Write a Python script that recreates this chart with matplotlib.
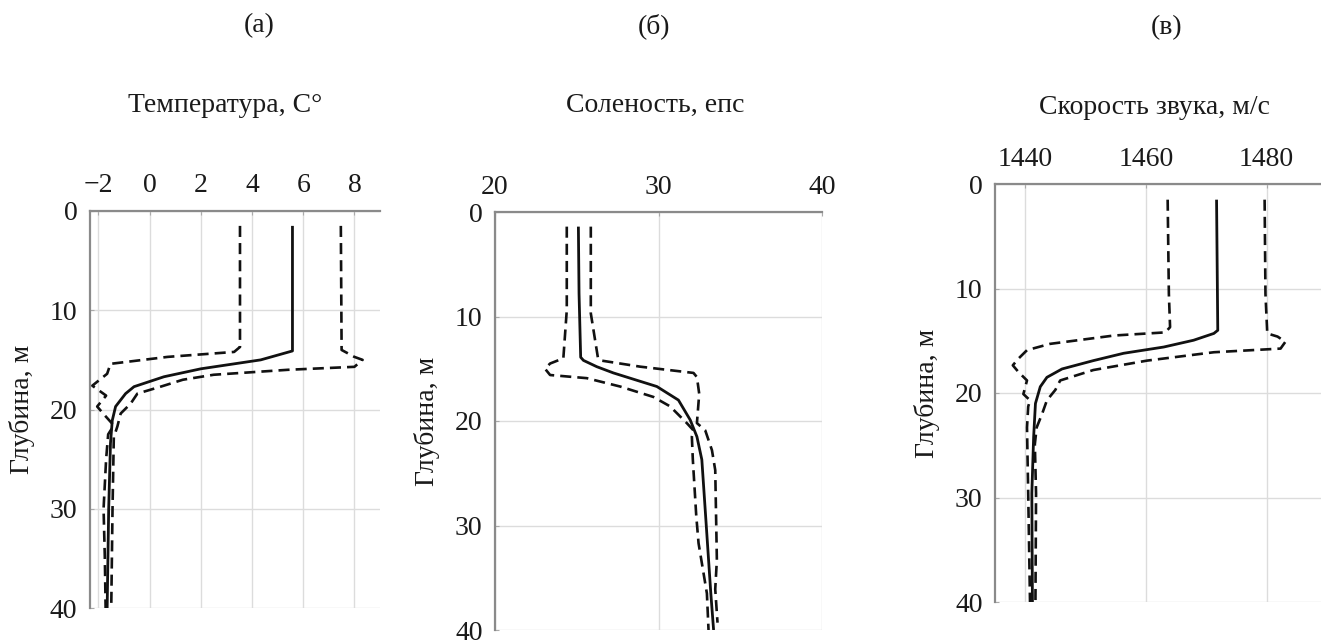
import matplotlib
matplotlib.use("Agg")
import matplotlib.pyplot as plt

plt.rcParams["font.family"] = ["Liberation Serif", "DejaVu Serif"]
plt.rcParams["font.size"] = 20

# temperature profiles (depth, m / value, C)
t_mean_depth = [1.5, 14.1, 15.0, 15.9, 16.7, 17.7, 18.4, 19.7, 21.1, 23.4, 30, 40]
t_mean = [5.58, 5.58, 4.34, 2.0, 0.56, -0.61, -0.94, -1.33, -1.46, -1.53, -1.6, -1.66]
t_min_depth = [1.5, 13.7, 14.2, 14.7, 15.4, 16.4, 17.6, 18.6, 19.7, 20.6, 21.6, 22.5, 25, 30, 35, 40]
t_min = [3.53, 3.53, 3.3, 0.7, -1.53, -1.66, -2.24, -1.7, -2.05, -1.75, -1.4, -1.62, -1.7, -1.8, -1.75, -1.72]
t_max_depth = [1.5, 14.0, 14.7, 15.0, 15.7, 16.0, 16.5, 17.0, 17.7, 18.4, 19.4, 20.4, 21.7, 22.8, 30, 40]
t_max = [7.47, 7.5, 8.0, 8.32, 8.0, 5.4, 2.5, 1.3, 0.43, -0.48, -0.74, -1.13, -1.26, -1.4, -1.45, -1.5]

# salinity profiles
s_mean_depth = [1.4, 7.8, 13.9, 14.2, 14.8, 15.4, 16.1, 16.7, 18.0, 19.9, 21.5, 23.7, 29.5, 36.5, 40]
s_mean = [25.1, 25.14, 25.24, 25.41, 26.22, 27.24, 28.67, 29.9, 31.22, 31.94, 32.35, 32.65, 32.9, 33.2, 33.37]
s_min_depth = [1.4, 9.4, 14.0, 14.5, 15.0, 15.6, 15.9, 16.7, 17.7, 18.6, 20.2, 20.9, 21.5, 23.7, 29.1, 31.7, 36.5, 40]
s_min = [24.39, 24.39, 24.18, 23.37, 23.06, 23.37, 25.61, 27.65, 29.69, 30.71, 31.73, 32.14, 32.04, 32.1, 32.31, 32.45, 32.96, 33.06]
s_max_depth = [1.4, 9.7, 13.9, 14.2, 14.8, 15.4, 15.8, 17.4, 20.2, 20.9, 22.8, 24.7, 33.3, 36.1, 39.3]
s_max = [25.86, 25.86, 26.29, 26.43, 28.88, 32.14, 32.35, 32.49, 32.35, 32.86, 33.27, 33.47, 33.57, 33.47, 33.61]

# sound speed profiles
c_mean_depth = [1.5, 14.0, 14.3, 14.95, 15.6, 16.2, 16.9, 17.7, 18.5, 19.4, 21.0, 24.2, 29.6, 40]
c_mean = [1471.7, 1471.9, 1471.25, 1467.9, 1462.95, 1456.3, 1451.3, 1446.1, 1443.6, 1442.5, 1441.7, 1441.4, 1441.1, 1441.2]
c_min_depth = [1.5, 10.5, 13.7, 14.2, 14.5, 15.3, 15.9, 16.7, 17.35, 18.0, 18.8, 20.1, 20.7, 21.3, 23.3, 29.6, 40]
c_min = [1463.6, 1463.8, 1464.0, 1463.2, 1454.7, 1444.1, 1440.3, 1438.9, 1437.95, 1438.9, 1440.3, 1439.7, 1440.8, 1440.5, 1440.3, 1440.5, 1440.8]
c_max_depth = [1.5, 10.5, 14.3, 14.6, 15.1, 15.75, 16.1, 16.9, 17.8, 18.8, 19.7, 20.7, 22.0, 23.3, 24.9, 29.6, 40]
c_max = [1479.66, 1479.8, 1480.1, 1481.8, 1483.1, 1482.3, 1471.25, 1460.2, 1451.3, 1445.8, 1445.0, 1443.6, 1442.8, 1441.9, 1441.6, 1441.8, 1441.7]

W, H = 1321, 643
fig = plt.figure(figsize=(W / 100, H / 100), dpi=100)


def make_axes(left, top, right, bottom):
    # pixel box -> figure fraction
    return fig.add_axes([left / W, 1 - bottom / H, (right - left) / W, (bottom - top) / H])


panels = [
    dict(box=(90, 211, 380, 608), xlim=(-2.33, 9.0), xticks=[-2, 0, 2, 4, 6, 8],
         yticks=[0, 10, 20, 30, 40],
         lines=[(t_mean_depth, t_mean), (t_min_depth, t_min), (t_max_depth, t_max)]),
    dict(box=(495, 212, 822, 630), xlim=(20, 40), xticks=[20, 30, 40],
         yticks=[0, 10, 20, 30, 40],
         lines=[(s_mean_depth, s_mean), (s_min_depth, s_min), (s_max_depth, s_max)]),
    dict(box=(995, 184, 1321, 602), xlim=(1435, 1489), xticks=[1440, 1460, 1480],
         yticks=[0, 10, 20, 30, 40],
         lines=[(c_mean_depth, c_mean), (c_min_depth, c_min), (c_max_depth, c_max)]),
]

for p in panels:
    ax = make_axes(*p["box"])
    ax.set_xlim(*p["xlim"])
    ax.set_ylim(40, 0)
    ax.set_xticks(p["xticks"])
    ax.set_yticks(p["yticks"])
    ax.xaxis.tick_top()
    ax.grid(True, color="#dcdcdc", lw=1.0)
    ax.set_axisbelow(True)
    for side in ["right", "bottom"]:
        ax.spines[side].set_visible(False)
    for side in ["top", "left"]:
        ax.spines[side].set_color("#8a8a8a")
        ax.spines[side].set_linewidth(1.6)
    ax.tick_params(axis="x", direction="in", length=3, color="#aaaaaa", pad=9,
                   labelsize=20, labelcolor="#1a1a1a")
    ax.tick_params(axis="y", direction="in", length=3, color="#aaaaaa", pad=9,
                   labelsize=20, labelcolor="#1a1a1a")
    ax.xaxis.set_major_formatter(plt.FuncFormatter(lambda v, _: f"{v:.0f}".replace("-", "\u2212")))

    (d0, v0), (d1, v1), (d2, v2) = p["lines"]
    ax.plot(v0, d0, color="#111111", lw=2.0, solid_capstyle="butt")
    ax.plot(v1, d1, color="#111111", lw=1.9, dashes=(4.2, 2.3))
    ax.plot(v2, d2, color="#111111", lw=1.9, dashes=(4.2, 2.3))

    ax.set_ylabel("Глубина, м", fontsize=20, color="#1a1a1a")
    width_px = p["box"][2] - p["box"][0]
    # right edge of the rotated label sits ~55 px left of the spine
    ax.yaxis.set_label_coords(-55 / width_px, 0.5)

# panel letters and titles
fig.text(259 / W, 1 - 26 / H, "(а)", ha="center", va="center", fontsize=20, color="#1a1a1a")
fig.text(654 / W, 1 - 26 / H, "(б)", ha="center", va="center", fontsize=20, color="#1a1a1a")
fig.text(1167 / W, 1 - 28 / H, "(в)", ha="center", va="center", fontsize=20, color="#1a1a1a")
fig.text(225 / W, 1 - 105 / H, "Температура, С°", ha="center", va="center", fontsize=20, color="#1a1a1a")
fig.text(655 / W, 1 - 105 / H, "Соленость, епс", ha="center", va="center", fontsize=20, color="#1a1a1a")
fig.text(1154 / W, 1 - 108 / H, "Скорость звука, м/с", ha="center", va="center", fontsize=20, color="#1a1a1a")

fig.savefig("out.png", dpi=100)
